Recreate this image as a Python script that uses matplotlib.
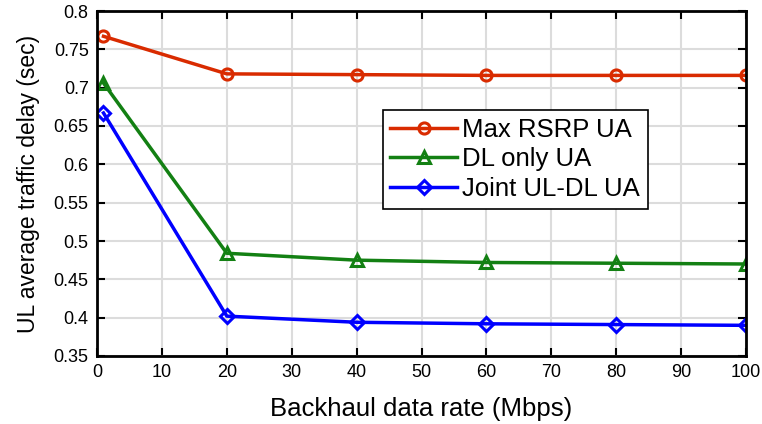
import matplotlib
matplotlib.use("Agg")
import matplotlib.pyplot as plt

plt.rcParams['font.family'] = ['Liberation Sans', 'DejaVu Sans']

# Data
rate = [1, 20, 40, 60, 80, 100]
max_rsrp = [0.767, 0.718, 0.717, 0.716, 0.716, 0.716]
dl_only = [0.706, 0.484, 0.475, 0.472, 0.471, 0.470]
joint = [0.667, 0.402, 0.394, 0.392, 0.391, 0.390]

fig = plt.figure(figsize=(7.62, 4.24), dpi=100)
ax = fig.add_axes([97/762, 1 - 356/424, 649/762, 345/424])

ax.plot(rate, max_rsrp, color='#d92b00', lw=2.5, marker='o', ms=8, mfc='none', mew=2.2,
        label='Max RSRP UA')
ax.plot(rate, dl_only, color='#138013', lw=2.5, marker='^', ms=9, mfc='none', mew=2.2,
        label='DL only UA')
ax.plot(rate, joint, color='#0000ff', lw=2.5, marker='D', ms=7, mfc='none', mew=2.2,
        label='Joint UL-DL UA')

ax.set_xlim(0, 100)
ax.set_ylim(0.35, 0.8)
ax.set_xticks(range(0, 101, 10))
ax.set_yticks([0.35, 0.4, 0.45, 0.5, 0.55, 0.6, 0.65, 0.7, 0.75, 0.8])
ax.set_yticklabels(['0.35', '0.4', '0.45', '0.5', '0.55', '0.6', '0.65', '0.7', '0.75', '0.8'])
ax.grid(True, color='#dcdcdc', lw=1.5)
ax.set_axisbelow(True)
ax.tick_params(direction='in', top=True, right=True, length=6, width=1.5,
               labelsize=13, pad=6)
for s in ax.spines.values():
    s.set_linewidth(2)

ax.set_xlabel('Backhaul data rate (Mbps)', fontsize=18.5, labelpad=11)
ax.set_ylabel('UL average traffic delay (sec)', fontsize=16.5, labelpad=10)

leg = ax.legend(loc='upper left', bbox_to_anchor=(0.44, 0.713), fontsize=18.5,
                frameon=True, fancybox=False, edgecolor='black', framealpha=1,
                borderpad=0.3, labelspacing=0.22, handlelength=2.6, handletextpad=0.2,
                borderaxespad=0)
leg.get_frame().set_linewidth(1.2)

fig.savefig('out.png', dpi=100)
